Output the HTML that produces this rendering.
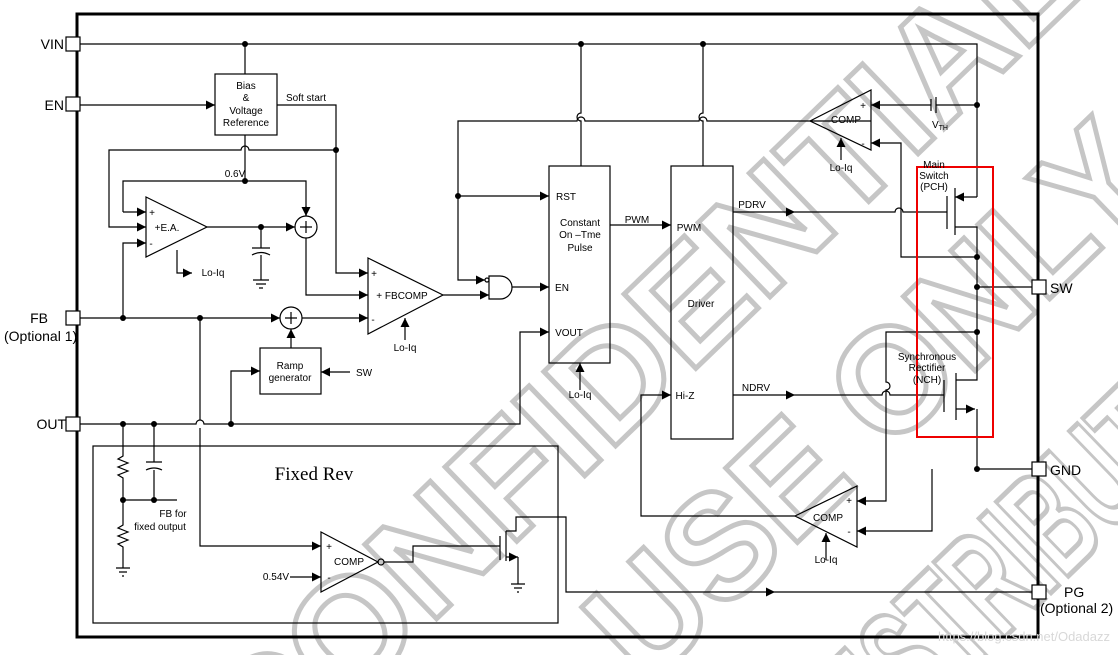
<!DOCTYPE html>
<html><head><meta charset="utf-8"><style>
html,body{margin:0;padding:0;background:#fff;width:1118px;height:655px;overflow:hidden;}
svg{display:block;overflow:hidden;}
text{font-family:"Liberation Sans",sans-serif;fill:#000;}
</style></head><body>
<svg width="1118" height="655" viewBox="0 0 1118 655" xmlns="http://www.w3.org/2000/svg">
<defs>
<marker id="a" viewBox="0 0 10 10" refX="10" refY="5" markerWidth="9" markerHeight="9" markerUnits="userSpaceOnUse" orient="auto"><path d="M0,0 L10,5 L0,10 z" fill="#000"/></marker>
</defs>
<!-- watermark -->
<g font-family="Liberation Sans" font-weight="bold" fill="none" stroke="#c6c6c6" stroke-width="5" font-size="150" text-anchor="middle" dominant-baseline="central">
<text x="0" y="0" transform="translate(640,350) rotate(-44)" style="fill:none;stroke:#c6c6c6" textLength="1150" lengthAdjust="spacingAndGlyphs">CONFIDENTIAL</text>
<text x="0" y="0" transform="translate(870,400) rotate(-44)" style="fill:none;stroke:#c6c6c6" textLength="720" lengthAdjust="spacingAndGlyphs">USE ONLY</text>
<text x="0" y="0" transform="translate(1010,560) rotate(-44)" style="fill:none;stroke:#c6c6c6" textLength="520" lengthAdjust="spacingAndGlyphs">DISTRIBUTE</text>
</g>
<g stroke="#000" stroke-width="1.2" fill="none">
<rect x="77" y="14" width="961" height="623" stroke-width="3"/>
<path d="M80,44 H977 V197"/>
<path d="M245,44 V74"/>
<path d="M581,44 V113 a4,4 0 0 0 0,8 V166"/>
<path d="M703,44 V113 a4,4 0 0 0 0,8 V166"/>
<path d="M80,105 H215" marker-end="url(#a)"/>
<rect x="215" y="74" width="62" height="61"/>
<path d="M277,105 H336 V273 H368" marker-end="url(#a)"/>
<path d="M336,150 H249 a4,4 0 0 0 -8,0 H109 V227 H146" marker-end="url(#a)"/>
<path d="M245,135 V181"/>
<path d="M123,212 V181 H306 V216" />
<path d="M123,212 H146" marker-end="url(#a)"/>
<path d="M306,206 V216" marker-end="url(#a)"/>
<path d="M146,197 L207,227 L146,257 Z"/>
<path d="M123,318 V243 H146" marker-end="url(#a)"/>
<path d="M207,227 H295" marker-end="url(#a)"/>
<circle cx="306" cy="227" r="11"/>
<path d="M300,227 h12 M306,221 v12"/>
<path d="M177,250 V273 H192" marker-end="url(#a)"/>
<path d="M261,227 V248 M252,248 h18 M252,255 q9,-5 18,0 M261,255 V280 M253,280 h16 M256,284 h10 M259,288 h4"/>
<path d="M306,238 V295 H368" marker-end="url(#a)"/>
<path d="M368,258 L443,295 L368,334 Z"/>
<path d="M405,340 V318" marker-end="url(#a)"/>
<path d="M80,318 H280" marker-end="url(#a)"/>
<path d="M302,318 H368" marker-end="url(#a)"/>
<circle cx="291" cy="318" r="11"/>
<path d="M285,318 h12 M291,312 v12"/>
<rect x="260" y="348" width="61" height="46"/>
<path d="M291,348 V329" marker-end="url(#a)"/>
<path d="M350,372 H321" marker-end="url(#a)"/>
<path d="M231,424 V371 H260" marker-end="url(#a)"/>
<path d="M443,295 H489" marker-end="url(#a)"/>
<path d="M489,276 H500 a12,11.5 0 0 1 0,23 H489 Z"/>
<circle cx="487" cy="280" r="2"/>
<path d="M871,121 H810 M810,121 H707 a4,4 0 0 0 -8,0 H585 a4,4 0 0 0 -8,0 H458 V280 H485" marker-end="url(#a)"/>
<path d="M458,196 H549" marker-end="url(#a)"/>
<path d="M512,287 H549" marker-end="url(#a)"/>
<rect x="549" y="166" width="61" height="197"/>
<path d="M580,390 V363" marker-end="url(#a)"/>
<path d="M231,424 H520 V332 H549" marker-end="url(#a)"/>
<path d="M610,225 H671" marker-end="url(#a)"/>
<rect x="671" y="166" width="62" height="273"/>
<path d="M733,212 H795" marker-end="url(#a)"/>
<path d="M795,212 H895 a4,4 0 0 1 8,0 H947"/>
<path d="M733,395 H795" marker-end="url(#a)"/>
<path d="M795,395 H882 a4,4 0 0 1 8,0 H944"/>
<path d="M810,121 L871,90 L871,150 Z"/>
<path d="M841,160 V138" marker-end="url(#a)"/>
<path d="M977,105 H936 M936,97 v16 M931,99 v12 M931,105 H871" marker-end="url(#a)"/>
<path d="M977,257 H901 V143 H871" marker-end="url(#a)"/>
<path d="M947,196 V229 M955,188 V235"/>
<path d="M977,197 H955" marker-end="url(#a)"/>
<path d="M955,227 H977 V380 H956"/>
<path d="M977,287 H1032"/>
<path d="M944,380 V412 M956,373 V420"/>
<path d="M956,409 H975" marker-end="url(#a)"/>
<path d="M977,409 V469 H1032"/>
<path d="M977,332 H886 V382 a4,4 0 0 1 0,8 V501 H857" marker-end="url(#a)"/>
<path d="M932,469 V531 H857" marker-end="url(#a)"/>
<path d="M795,516 L857,486 L857,547 Z"/>
<path d="M826,560 V533" marker-end="url(#a)"/>
<path d="M795,516 H641 V395 H671" marker-end="url(#a)"/>
<path d="M80,424 H196 a4,4 0 0 1 8,0 H231"/>
<path d="M200,318 V420 M200,428 V546 H321" marker-end="url(#a)"/>
<rect x="93" y="446" width="465" height="177"/>
<path d="M123,424 V456 l-5,3 l10,4 l-10,4 l10,4 l-10,4 l5,3 V525 l-5,3 l10,4 l-10,4 l10,4 l-10,4 l5,3 V568 M116,568 h14 M119,572 h8 M122,576 h2"/>
<path d="M154,424 V462 M146,462 h16 M146,470 q8,-4 16,0 M154,470 V500 M123,500 H177"/>
<path d="M321,532 L378,562 L321,592 Z"/>
<circle cx="381" cy="562" r="3"/>
<path d="M290,577 H321" marker-end="url(#a)"/>
<path d="M384,562 H413 V546 H500 M500,536 V560 M506,531 V561"/>
<path d="M506,531 H516 V517 H566 V592 H775" marker-end="url(#a)"/>
<path d="M775,592 H1032"/>
<path d="M506,557 H518" marker-end="url(#a)"/>
<path d="M518,557 V584 M511,584 h14 M514,588 h8 M517,592 h2"/>
</g>
<g fill="#000">
<circle cx="245" cy="44" r="3"/><circle cx="581" cy="44" r="3"/><circle cx="703" cy="44" r="3"/>
<circle cx="336" cy="150" r="3"/><circle cx="245" cy="181" r="3"/><circle cx="261" cy="227" r="3"/>
<circle cx="123" cy="318" r="3"/><circle cx="200" cy="318" r="3"/><circle cx="458" cy="196" r="3"/>
<circle cx="977" cy="105" r="3"/><circle cx="977" cy="257" r="3"/><circle cx="977" cy="287" r="3"/>
<circle cx="977" cy="332" r="3"/><circle cx="977" cy="469" r="3"/>
<circle cx="123" cy="424" r="3"/><circle cx="154" cy="424" r="3"/><circle cx="231" cy="424" r="3"/>
<circle cx="123" cy="500" r="3"/><circle cx="154" cy="500" r="3"/>
</g>
<rect x="917" y="167" width="76" height="270" fill="none" stroke="#e00" stroke-width="2"/>
<g fill="#fff" stroke="#000" stroke-width="1.2">
<rect x="66" y="37" width="14" height="14"/><rect x="66" y="97" width="14" height="14"/>
<rect x="66" y="311" width="14" height="14"/><rect x="66" y="417" width="14" height="14"/>
<rect x="1032" y="280" width="14" height="14"/><rect x="1032" y="462" width="14" height="14"/>
<rect x="1032" y="585" width="14" height="14"/>
</g>
<g font-size="14">
<text x="64" y="49" text-anchor="end">VIN</text>
<text x="64" y="110" text-anchor="end">EN</text>
<text x="48" y="323" text-anchor="end">FB</text>
<text x="4" y="341">(Optional 1)</text>
<text x="66" y="429" text-anchor="end">OUT</text>
<text x="1050" y="293">SW</text>
<text x="1050" y="475">GND</text>
<text x="1064" y="597">PG</text>
<text x="1040" y="613">(Optional 2)</text>
</g>
<g font-size="10" text-anchor="middle">
<text x="246" y="89">Bias</text><text x="246" y="101">&amp;</text><text x="246" y="114">Voltage</text><text x="246" y="126">Reference</text>
<text x="306" y="101">Soft start</text>
<text x="235" y="177">0.6V</text>
<text x="167" y="231">+E.A.</text>
<text x="152" y="216">+</text><text x="151" y="247">-</text>
<text x="213" y="276">Lo-Iq</text>
<text x="374" y="277">+</text><text x="402" y="299">+ FBCOMP</text><text x="373" y="323">-</text>
<text x="405" y="351">Lo-Iq</text>
<text x="290" y="369">Ramp</text><text x="290" y="381">generator</text>
<text x="364" y="376">SW</text>
<text x="566" y="200">RST</text>
<text x="580" y="226">Constant</text><text x="580" y="238">On –Tme</text><text x="580" y="251">Pulse</text>
<text x="562" y="291">EN</text>
<text x="569" y="336">VOUT</text>
<text x="580" y="398">Lo-Iq</text>
<text x="637" y="223">PWM</text>
<text x="689" y="231">PWM</text>
<text x="701" y="307">Driver</text>
<text x="685" y="399">Hi-Z</text>
<text x="752" y="208">PDRV</text>
<text x="756" y="391">NDRV</text>
<text x="846" y="123">COMP</text>
<text x="863" y="109">+</text><text x="863" y="147">-</text>
<text x="841" y="171">Lo-Iq</text>
<text x="940" y="128">V<tspan font-size="7" dy="2">TH</tspan></text>
<text x="934" y="168">Main</text><text x="934" y="179">Switch</text><text x="934" y="190">(PCH)</text>
<text x="927" y="360">Synchronous</text><text x="927" y="371">Rectifier</text><text x="927" y="383">(NCH)</text>
<text x="828" y="521">COMP</text>
<text x="849" y="504">+</text><text x="849" y="535">-</text>
<text x="826" y="563">Lo-Iq</text>
<text x="173" y="517">FB for</text><text x="160" y="530">fixed output</text>
<text x="349" y="565">COMP</text>
<text x="329" y="550">+</text><text x="329" y="581">-</text>
<text x="276" y="580">0.54V</text>
</g>
<text x="314" y="480" font-size="19" text-anchor="middle" style="font-family:'Liberation Serif',serif">Fixed Rev</text>
<text x="1110" y="641" font-size="13" text-anchor="end" style="fill:#d8d8d8">https://blog.csdn.net/Odadazz</text>
</svg>
</body></html>
